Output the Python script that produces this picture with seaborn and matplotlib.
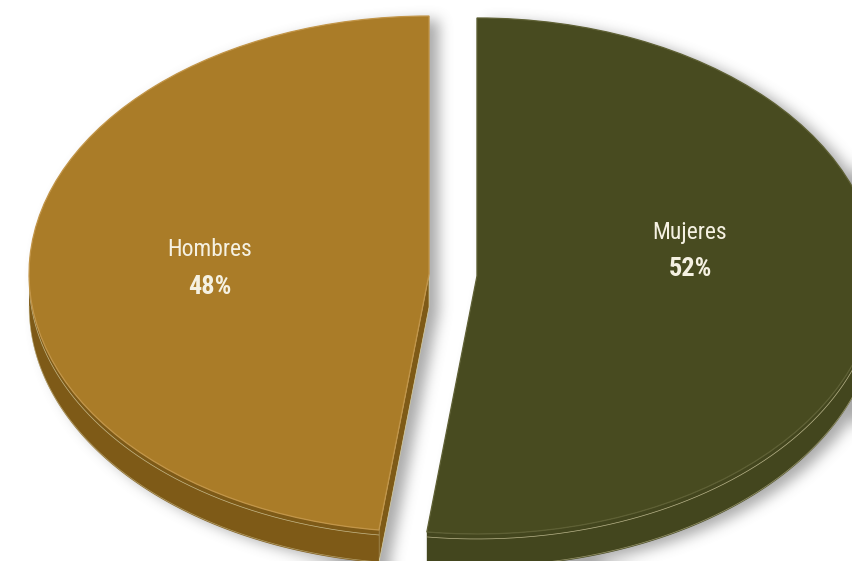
import numpy as np
import pandas as pd
import seaborn as sns
import matplotlib
matplotlib.use("Agg")
import matplotlib.pyplot as plt
from matplotlib.patches import Polygon
from matplotlib.path import Path
from matplotlib import font_manager

# ---- data -------------------------------------------------------------
categories = ["Hombres", "Mujeres"]
shares = [48, 52]
pct_labels = ["48%", "52%"]

# ---- style ------------------------------------------------------------
top_colors = ["#AA7C28", "#484B20"]
side_colors = ["#7E5A17", "#43461E"]
edge_colors = ["#C29548", "#5E6034"]
line_color = "#D9D2A8"
text_color = "#F5F1E2"

sns.set_theme(style="white")
installed = {f.name for f in font_manager.fontManager.ttflist}
narrow = [f for f in ["Roboto Condensed", "Liberation Sans Narrow", "Roboto"] if f in installed]
plt.rcParams["font.family"] = narrow[:1] + ["DejaVu Sans"]

df = pd.DataFrame({"categoria": categories, "porcentaje": shares})

W, H = 852, 561
CX, CY = 453.0, 275.0      # pie centre in pixels
RX, RY = 400.0, 258.0      # projected radii in pixels
DEPTH = 33.0 / RY          # wall height in radius units
EXPLODE = 0.06

fig = plt.figure(figsize=(W / 100, H / 100), dpi=100)
ax = fig.add_axes([0, 0, 1, 1])

wedges, _ = ax.pie(
    df["porcentaje"], colors=top_colors, startangle=90, counterclock=True,
    explode=[EXPLODE] * len(df), radius=1.0, center=(0, 0),
    wedgeprops=dict(linewidth=0.9, zorder=3),
)
for w, ec in zip(wedges, edge_colors):
    w.set_edgecolor(ec)

xlim = ((0 - CX) / RX, (W - CX) / RX)
ylim = ((CY - H) / RY, CY / RY)


def arc(cx, cy, t1, t2, n=240):
    t = np.radians(np.linspace(t1, t2, n))
    return cx + np.cos(t), cy + np.sin(t), t


silhouettes = []
for w, side in zip(wedges, side_colors):
    cx, cy = w.center
    t1, t2 = w.theta1, w.theta2

    # straight cut faces that turn towards the viewer
    for ang, normal in ((t2, t2 + 90), (t1, t1 - 90)):
        if np.sin(np.radians(normal)) < -1e-3:
            ex, ey = cx + np.cos(np.radians(ang)), cy + np.sin(np.radians(ang))
            face = [(cx, cy), (ex, ey), (ex, ey - DEPTH), (cx, cy - DEPTH)]
            ax.add_patch(Polygon(face, closed=True, facecolor=side,
                                 edgecolor=line_color, linewidth=0.5, zorder=1))

    # curved outer wall on the front half of the rim
    xs, ys, t = arc(cx, cy, t1, t2, 600)
    front = np.sin(t) <= 0
    if front.any():
        fx, fy = xs[front], ys[front]
        wall = np.column_stack([np.r_[fx, fx[::-1]],
                                np.r_[fy, (fy - DEPTH)[::-1]]])
        ax.add_patch(Polygon(wall, closed=True, facecolor=side,
                             edgecolor="none", zorder=2))
        ax.plot(fx, fy - 5 / RY, color=line_color, lw=0.5, alpha=0.8, zorder=2.5)
        ax.plot(fx, fy - DEPTH + 1 / RY, color=line_color, lw=0.5, alpha=0.6, zorder=2.5)

    # outline used for the soft drop shadow
    top = np.column_stack([np.r_[cx, xs], np.r_[cy, ys]])
    for k in np.linspace(0, DEPTH, 5):
        silhouettes.append(Path(top - [0, k]))

# ---- soft drop shadow -------------------------------------------------
off_x, off_y = 10, 4
jj, ii = np.meshgrid(np.arange(W) + 0.5 - off_x, np.arange(H) + 0.5 - off_y)
pts = np.column_stack([((jj - CX) / RX).ravel(), ((CY - ii) / RY).ravel()])
mask = np.zeros(len(pts), dtype=bool)
for p in silhouettes:
    mask |= p.contains_points(pts)
mask = mask.reshape(H, W).astype(float)


def box_blur(a, r):
    k = np.ones(2 * r + 1) / (2 * r + 1)
    a = np.apply_along_axis(lambda v: np.convolve(np.pad(v, r, mode="edge"), k, "valid"), 1, a)
    a = np.apply_along_axis(lambda v: np.convolve(np.pad(v, r, mode="edge"), k, "valid"), 0, a)
    return a


soft = mask
for _ in range(3):
    soft = box_blur(soft, 6)
shadow = np.zeros((H, W, 4))
shadow[..., :3] = 0.45
shadow[..., 3] = soft * 0.6
ax.imshow(shadow, extent=(xlim[0], xlim[1], ylim[0], ylim[1]), origin="upper",
          aspect="auto", zorder=0, interpolation="bilinear")

# ---- labels -----------------------------------------------------------
label_px = {"Hombres": (210, 250), "Mujeres": (690, 232)}
for cat, pct in zip(df["categoria"], pct_labels):
    px, py = label_px[cat]
    x, y = (px - CX) / RX, (CY - py) / RY
    ax.text(x, y, cat, ha="center", va="center", fontsize=17,
            color=text_color, zorder=5)
    ax.text(x, y - 37 / RY, pct, ha="center", va="center", fontsize=19,
            fontweight="bold", color=text_color, zorder=5)

ax.set_xlim(*xlim)
ax.set_ylim(*ylim)
ax.set_aspect("auto")
ax.axis("off")
fig.savefig("out.png", dpi=100, facecolor="white")
